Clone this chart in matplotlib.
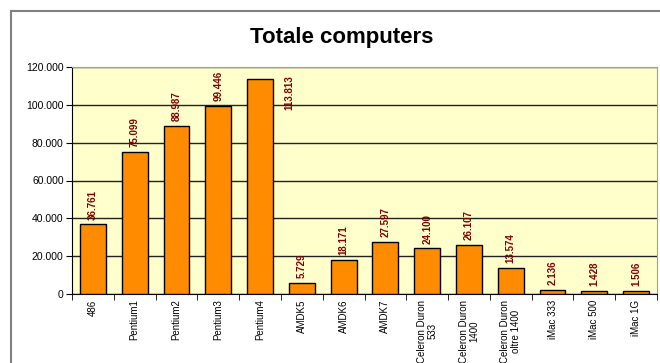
import matplotlib
matplotlib.use("Agg")
import matplotlib.pyplot as plt
from matplotlib.lines import Line2D
from matplotlib.ticker import FuncFormatter, MultipleLocator, FixedLocator

categories = ["486", "Pentium1", "Pentium2", "Pentium3", "Pentium4", "AMDK5", "AMDK6",
              "AMDK7", "Celeron Duron\n533", "Celeron Duron\n1400", "Celeron Duron\noltre 1400",
              "iMac 333", "iMac 500", "iMac 1G"]
values = [36761, 75099, 88987, 99446, 113813, 5729, 18171, 27597, 24100, 26107, 13574,
          2136, 1428, 1506]
title = "Totale computers"

plt.rcParams['font.family'] = ['Liberation Sans', 'DejaVu Sans']

W, H = 660, 363
fig = plt.figure(figsize=(W / 100, H / 100), dpi=100)
fig.patch.set_facecolor("white")

# chart area border
fig.add_artist(Line2D([11 / W, 11 / W], [0, 1 - 11 / H], transform=fig.transFigure,
                      color="#808080", lw=1.5))
fig.add_artist(Line2D([11 / W, 1], [1 - 11 / H, 1 - 11 / H], transform=fig.transFigure,
                      color="#808080", lw=1.5))

left, right, top, bottom = 72, 657, 67, 294
ax = fig.add_axes([left / W, 1 - bottom / H, (right - left) / W, (bottom - top) / H])
ax.set_facecolor("#FFFFCC")

n = len(categories)
x = list(range(n))
ax.bar(x, values, width=0.62, color="#FF8C00", edgecolor="black", linewidth=1, zorder=3)

ax.set_xlim(-0.5, n - 0.5)
ax.set_ylim(0, 120000)
ax.yaxis.set_major_locator(MultipleLocator(20000))
ax.yaxis.set_major_formatter(FuncFormatter(lambda v, p: f"{int(v):,}".replace(",", ".")))
ax.grid(axis="y", color="#222222", lw=1, zorder=1)
ax.set_axisbelow(True)

ax.set_xticks(x)
ax.set_xticklabels(categories, rotation=90, fontsize=7, va="top", ha="center",
                   multialignment="center", linespacing=1.1)
ax.tick_params(axis="x", which="major", length=0, pad=4)
ax.xaxis.set_minor_locator(FixedLocator([i - 0.5 for i in range(n + 1)]))
ax.tick_params(axis="x", which="minor", length=4, color="black", direction="out")
ax.tick_params(axis="y", which="major", length=4, labelsize=7.5, color="black", pad=2)

for s in ["top", "right"]:
    ax.spines[s].set_color("#A0A0A0")
for s in ["left", "bottom"]:
    ax.spines[s].set_color("black")

ymax = ax.get_ylim()[1]
for xi, v in zip(x, values):
    lbl = f"{v:,}".replace(",", ".")
    if v > 0.9 * ymax:
        ax.annotate(lbl, (xi + 0.7, ymax), xytext=(0, -6), textcoords="offset points",
                    rotation=90, ha="center", va="top", fontsize=7, fontweight="bold",
                    color="#800000", zorder=4)
    else:
        ax.annotate(lbl, (xi, v), xytext=(0, 3.5), textcoords="offset points",
                    rotation=90, ha="center", va="bottom", fontsize=7, fontweight="bold",
                    color="#800000", zorder=4)

fig.text(342 / W, 1 - 37 / H, title, ha="center", va="center", fontsize=16,
         fontweight="bold")

fig.savefig("out.png", dpi=100)
